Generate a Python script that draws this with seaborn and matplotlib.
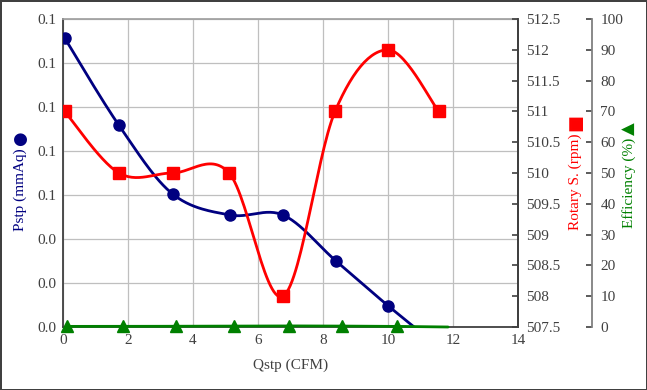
import numpy as np
import matplotlib
matplotlib.use("Agg")
import matplotlib.pyplot as plt
import seaborn as sns
from matplotlib.ticker import FuncFormatter, MultipleLocator

sns.set_theme(style="white")
plt.rcParams["font.family"] = ["Liberation Serif", "DejaVu Sans"]

# ---------------------------------------------------------------------------
# data
# ---------------------------------------------------------------------------
q_pstp = [0.05, 1.72, 3.37, 5.14, 6.77, 8.40, 10.0, 11.56]
pstp = [0.1314, 0.0917, 0.0605, 0.0509, 0.0509, 0.0300, 0.0097, -0.0090]

q_rpm = [0.05, 1.72, 3.37, 5.11, 6.77, 8.37, 10.0, 11.56]
rpm = [511.0, 510.0, 510.0, 510.0, 508.0, 511.0, 512.0, 511.0]

q_eff = [0.13, 1.84, 3.48, 5.25, 6.94, 8.58, 10.27, 11.85]
eff = [0.2, 0.2, 0.25, 0.3, 0.35, 0.3, 0.2, 0.0]

NAVY = "#000080"
RED = "#FF0000"
GREEN = "#008000"
TXT = "#404040"


def smooth(x, y, n=30):
    """Excel-like smoothed line: cubic Bezier with Catmull-Rom control points."""
    x = np.asarray(x, float)
    y = np.asarray(y, float)
    px, py = [], []
    for i in range(len(x) - 1):
        i0, i3 = max(i - 1, 0), min(i + 2, len(x) - 1)
        c1x = x[i] + (x[i + 1] - x[i0]) / 6
        c1y = y[i] + (y[i + 1] - y[i0]) / 6
        c2x = x[i + 1] - (x[i3] - x[i]) / 6
        c2y = y[i + 1] - (y[i3] - y[i]) / 6
        t = np.linspace(0, 1, n)
        a, b, c, d = (1 - t) ** 3, 3 * t * (1 - t) ** 2, 3 * t ** 2 * (1 - t), t ** 3
        px.append(a * x[i] + b * c1x + c * c2x + d * x[i + 1])
        py.append(a * y[i] + b * c1y + c * c2y + d * y[i + 1])
    return np.concatenate(px), np.concatenate(py)


def label_with_symbol(axis, text, symbol, color, size, y, pad):
    """Axis label with a larger legend symbol after it (rotated, so on top)."""
    axis.set_label_text(text, fontsize=11, color=color)
    axis.labelpad = pad
    axis.label.set_y(y)
    axis.axes.annotate(symbol, xy=(0.5, 1.0), xycoords=axis.label,
                       xytext=(0, 2), textcoords="offset points",
                       rotation=90, ha="center", va="bottom",
                       fontsize=size, color=color, family="DejaVu Sans")


fig = plt.figure(figsize=(6.47, 3.90), dpi=100)
fig.patch.set_edgecolor("#404040")
fig.patch.set_linewidth(2)
ax = fig.add_axes([63 / 647, 63 / 390, 455 / 647, 308 / 390])
ax_rpm = ax.twinx()
ax_eff = ax.twinx()
ax_eff.spines["right"].set_position(("axes", 1.163))

# grid
ax.set_xlim(0, 14)
ax.set_ylim(0, 0.14)
ax.xaxis.set_major_locator(MultipleLocator(2))
ax.yaxis.set_major_locator(MultipleLocator(0.02))
ax.grid(True, color="#BFBFBF", linewidth=0.9)
ax.set_axisbelow(True)

# Pstp
sx, sy = smooth(q_pstp, pstp)
ax.plot(sx, sy, color=NAVY, linewidth=2, zorder=3)
ax.plot(q_pstp[:-1], pstp[:-1], linestyle="none", marker="o", markersize=8,
        color=NAVY, zorder=4)

# rotary speed
ax_rpm.set_ylim(507.5, 512.5)
ax_rpm.yaxis.set_major_locator(MultipleLocator(0.5))
sx, sy = smooth(q_rpm, rpm)
ax_rpm.plot(sx, sy, color=RED, linewidth=2)
ax_rpm.plot(q_rpm, rpm, linestyle="none", marker="s", markersize=8, color=RED)

# efficiency
ax_eff.set_ylim(0, 100)
ax_eff.yaxis.set_major_locator(MultipleLocator(10))
sx, sy = smooth(q_eff, eff)
ax_eff.plot(sx, sy, color=GREEN, linewidth=2, clip_on=False)
ax_eff.plot(q_eff[:-1], eff[:-1], linestyle="none", marker="^", markersize=8,
            color=GREEN, clip_on=False)

# axes styling
ax.yaxis.set_major_formatter(FuncFormatter(lambda v, p: f"{v:.1f}"))
ax_rpm.yaxis.set_major_formatter(FuncFormatter(lambda v, p: f"{v:g}"))
ax.tick_params(axis="both", length=0, labelsize=11, labelcolor=TXT, pad=5)
ax_rpm.tick_params(axis="y", direction="in", length=4, width=1.2, color="#404040",
                   labelsize=11, labelcolor=TXT, pad=6)
ax_eff.tick_params(axis="y", direction="in", length=4, width=1.2, color="#404040",
                   labelsize=11, labelcolor=TXT, pad=6)

ax.spines["top"].set_color("#A0A0A0")
for s in ["left", "bottom"]:
    ax.spines[s].set_color("#404040")
    ax.spines[s].set_linewidth(1.3)
ax_rpm.spines["right"].set_color("#404040")
ax_rpm.spines["right"].set_linewidth(1.3)
for s in ["top", "left", "bottom"]:
    ax_rpm.spines[s].set_visible(False)
    ax_eff.spines[s].set_visible(False)
ax_eff.spines["right"].set_color("#808080")
ax_eff.spines["right"].set_linewidth(1.3)

ax.set_xlabel("Qstp (CFM)", fontsize=11, color=TXT, labelpad=8)
label_with_symbol(ax.yaxis, "Pstp (mmAq)", "\u25CF", NAVY, 12, 0.445, 7.5)
label_with_symbol(ax_rpm.yaxis, "Rotary S. (rpm)", "\u25A0", RED, 13, 0.47, 6)
label_with_symbol(ax_eff.yaxis, "Efficiency (%)", "\u25B2", GREEN, 12, 0.468, -1)

fig.savefig("out.png", dpi=100, edgecolor=fig.get_edgecolor())
